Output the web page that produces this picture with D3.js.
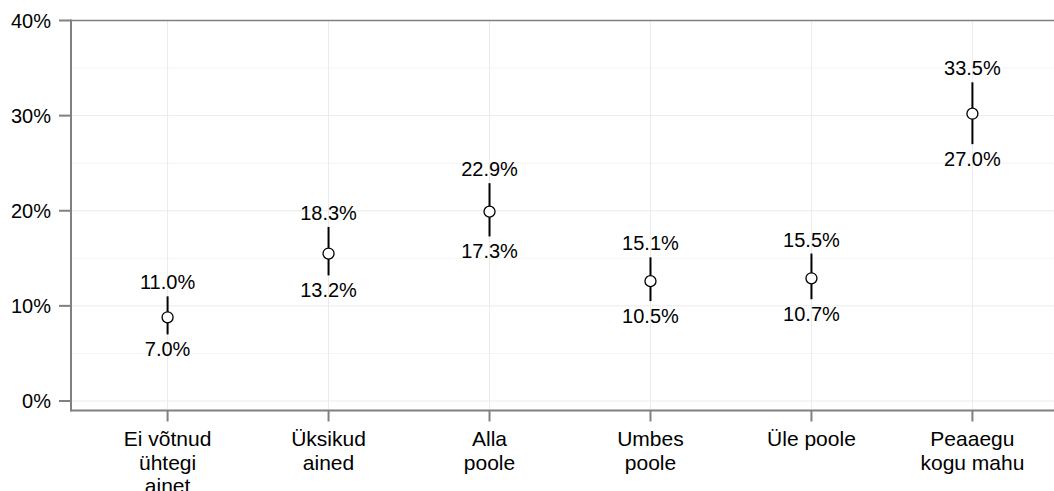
<!DOCTYPE html>
<html>
<head>
<meta charset="utf-8">
<script src="https://cdn.jsdelivr.net/npm/d3@7"></script>
<style>
  body { margin: 0; background: #fff; }
  text { font-family: "Liberation Sans", Arial, sans-serif; font-size: 20px; fill: #000; }
</style>
</head>
<body>
<svg id="chart" width="1054" height="491"></svg>
<script>
// data
var categories = ["Ei võtnud\nühtegi\nainet", "Üksikud\nained", "Alla\npoole", "Umbes\npoole", "Üle poole", "Peaaegu\nkogu mahu"];
var estimates = [8.8, 15.5, 19.9, 12.6, 12.9, 30.2];
var lower = [7.0, 13.2, 17.3, 10.5, 10.7, 27.0];
var upper = [11.0, 18.3, 22.9, 15.1, 15.5, 33.5];
var yTicks = [0, 10, 20, 30, 40];
var yMinor = [5, 15, 25, 35];

var svg = d3.select("#chart");
var plotLeft = 71, plotTop = 20.5, plotBottom = 410.5;

var x = d3.scalePoint()
    .domain(categories)
    .range([plotLeft, 1069])
    .padding(0.6);

var y = d3.scaleLinear()
    .domain([-1, 40])
    .range([plotBottom, plotTop]);

// grid
var grid = svg.append("g");
grid.selectAll(".minor").data(yMinor).enter().append("line")
    .attr("x1", plotLeft).attr("x2", 1054)
    .attr("y1", d => y(d)).attr("y2", d => y(d))
    .attr("stroke", "#f4f4f4").attr("stroke-width", 1);
grid.selectAll(".major").data(yTicks).enter().append("line")
    .attr("x1", plotLeft).attr("x2", 1054)
    .attr("y1", d => y(d)).attr("y2", d => y(d))
    .attr("stroke", "#ebebeb").attr("stroke-width", 1);
grid.selectAll(".vert").data(categories).enter().append("line")
    .attr("x1", d => x(d)).attr("x2", d => x(d))
    .attr("y1", plotTop).attr("y2", plotBottom)
    .attr("stroke", "#ebebeb").attr("stroke-width", 1);

// axes
var axisCol = "#808080";
svg.append("line").attr("x1", plotLeft).attr("x2", plotLeft).attr("y1", plotTop - 1).attr("y2", plotBottom + 1)
    .attr("stroke", axisCol).attr("stroke-width", 2);
svg.append("line").attr("x1", plotLeft).attr("x2", 1054).attr("y1", plotBottom).attr("y2", plotBottom)
    .attr("stroke", axisCol).attr("stroke-width", 2);
svg.append("line").attr("x1", plotLeft).attr("x2", 1054).attr("y1", plotTop).attr("y2", plotTop)
    .attr("stroke", axisCol).attr("stroke-width", 1.5);

var yAxis = svg.append("g");
yAxis.selectAll("line").data(yTicks).enter().append("line")
    .attr("x1", plotLeft - 12).attr("x2", plotLeft)
    .attr("y1", d => y(d)).attr("y2", d => y(d))
    .attr("stroke", axisCol).attr("stroke-width", 2);
yAxis.selectAll("text").data(yTicks).enter().append("text")
    .attr("x", 51).attr("y", d => y(d) + 7)
    .attr("text-anchor", "end")
    .text(d => d + "%");

var xAxis = svg.append("g");
xAxis.selectAll("line").data(categories).enter().append("line")
    .attr("x1", d => x(d)).attr("x2", d => x(d))
    .attr("y1", plotBottom).attr("y2", plotBottom + 11)
    .attr("stroke", axisCol).attr("stroke-width", 2);
xAxis.selectAll("text").data(categories).enter().append("text")
    .attr("text-anchor", "middle")
    .style("font-size", "21px")
    .each(function(d) {
        var t = d3.select(this);
        d.split("\n").forEach(function(s, i) {
            t.append("tspan").attr("x", x(d)).attr("y", 446 + i * 23.5).text(s);
        });
    });

// error bars and points
var rows = categories.map((c, i) => ({ c: c, est: estimates[i], lo: lower[i], hi: upper[i] }));
var g = svg.append("g");
g.selectAll(".bar").data(rows).enter().append("line")
    .attr("x1", d => x(d.c)).attr("x2", d => x(d.c))
    .attr("y1", d => y(d.lo)).attr("y2", d => y(d.hi))
    .attr("stroke", "#000").attr("stroke-width", 2);
g.selectAll("circle").data(rows).enter().append("circle")
    .attr("cx", d => x(d.c)).attr("cy", d => y(d.est))
    .attr("r", 5.5)
    .attr("fill", "#fff").attr("stroke", "#000").attr("stroke-width", 1.3);
g.selectAll(".hi").data(rows).enter().append("text")
    .attr("text-anchor", "middle")
    .attr("x", d => x(d.c)).attr("y", d => y(d.hi) - 7)
    .text(d => d.hi.toFixed(1) + "%");
g.selectAll(".lo").data(rows).enter().append("text")
    .attr("text-anchor", "middle")
    .attr("x", d => x(d.c)).attr("y", d => y(d.lo) + 21.5)
    .text(d => d.lo.toFixed(1) + "%");
</script>
</body>
</html>
